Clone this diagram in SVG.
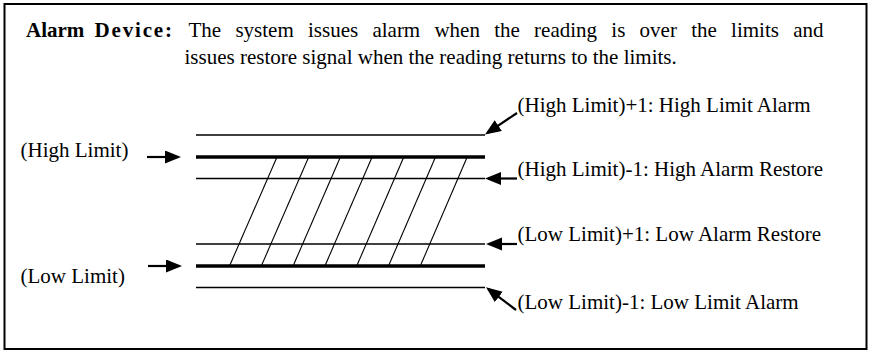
<svg xmlns="http://www.w3.org/2000/svg" width="869" height="351" viewBox="0 0 869 351">
<style>
text{font-family:"Liberation Serif","Times New Roman",serif;font-size:21px;fill:#000}
.b{font-weight:bold}
.thin{stroke:#000;stroke-width:1.6;fill:none}
.thick{stroke:#000;stroke-width:3.6;fill:none}
.hatch{stroke:#000;stroke-width:1.1;fill:none}
.arr{stroke:#000;stroke-width:2.2;fill:none;marker-end:url(#ah)}
</style>
<defs>
<marker id="ah" markerUnits="userSpaceOnUse" markerWidth="17" markerHeight="14" refX="13" refY="6.5" orient="auto">
<path d="M0,0 L16,6.5 L0,13 z" fill="#000"/>
</marker>
</defs>
<rect x="4.5" y="4" width="862" height="345" fill="#fff" stroke="#000" stroke-width="2"/>
<g id="title">
<text class="b" x="26" y="37">Alarm</text>
<text class="b" x="94.5" y="37" textLength="77.5" lengthAdjust="spacing">Device:</text>
<text x="188.5" y="37" word-spacing="9">The system issues alarm when the reading is over the limits and</text>
<text x="184.5" y="63.5">issues restore signal when the reading returns to the limits.</text>
</g>
<g id="levels">
<line class="thin" x1="196" y1="135" x2="485" y2="135"/>
<line class="thick" x1="196" y1="157" x2="485" y2="157"/>
<line class="thin" x1="196" y1="178.5" x2="485" y2="178.5"/>
<line class="thin" x1="196" y1="244" x2="485" y2="244"/>
<line class="thick" x1="196" y1="266" x2="485" y2="266"/>
<line class="thin" x1="196" y1="287.5" x2="485" y2="287.5"/>
</g>
<g id="hatch">
<line class="hatch" x1="277" y1="157" x2="229.5" y2="266"/>
<line class="hatch" x1="308.7" y1="157" x2="261.3" y2="266"/>
<line class="hatch" x1="340.4" y1="157" x2="293.1" y2="266"/>
<line class="hatch" x1="372.1" y1="157" x2="324.9" y2="266"/>
<line class="hatch" x1="403.8" y1="157" x2="356.7" y2="266"/>
<line class="hatch" x1="435.5" y1="157" x2="388.5" y2="266"/>
<line class="hatch" x1="467.2" y1="157" x2="420.3" y2="266"/>
</g>
<g id="label-high-limit"><text x="20.5" y="157">(High Limit)</text></g>
<g id="label-low-limit"><text x="20.5" y="282.5">(Low Limit)</text></g>
<g id="label-high-alarm"><text x="517.5" y="112">(High Limit)+1: High Limit Alarm</text></g>
<g id="label-high-restore"><text x="517.5" y="176">(High Limit)-1: High Alarm Restore</text></g>
<g id="label-low-restore"><text x="517.5" y="240.5">(Low Limit)+1: Low Alarm Restore</text></g>
<g id="label-low-alarm"><text x="517.5" y="308.5">(Low Limit)-1: Low Limit Alarm</text></g>
<g id="connectors">
<line class="arr" x1="147" y1="157" x2="178" y2="157"/>
<line class="arr" x1="148" y1="266" x2="179" y2="266"/>
<line class="arr" x1="517" y1="113" x2="487.5" y2="132.8"/>
<line class="arr" x1="517" y1="178.5" x2="488" y2="178.5"/>
<line class="arr" x1="517" y1="244" x2="489" y2="244"/>
<line class="arr" x1="516" y1="310" x2="488.4" y2="289.1"/>
</g>
</svg>
